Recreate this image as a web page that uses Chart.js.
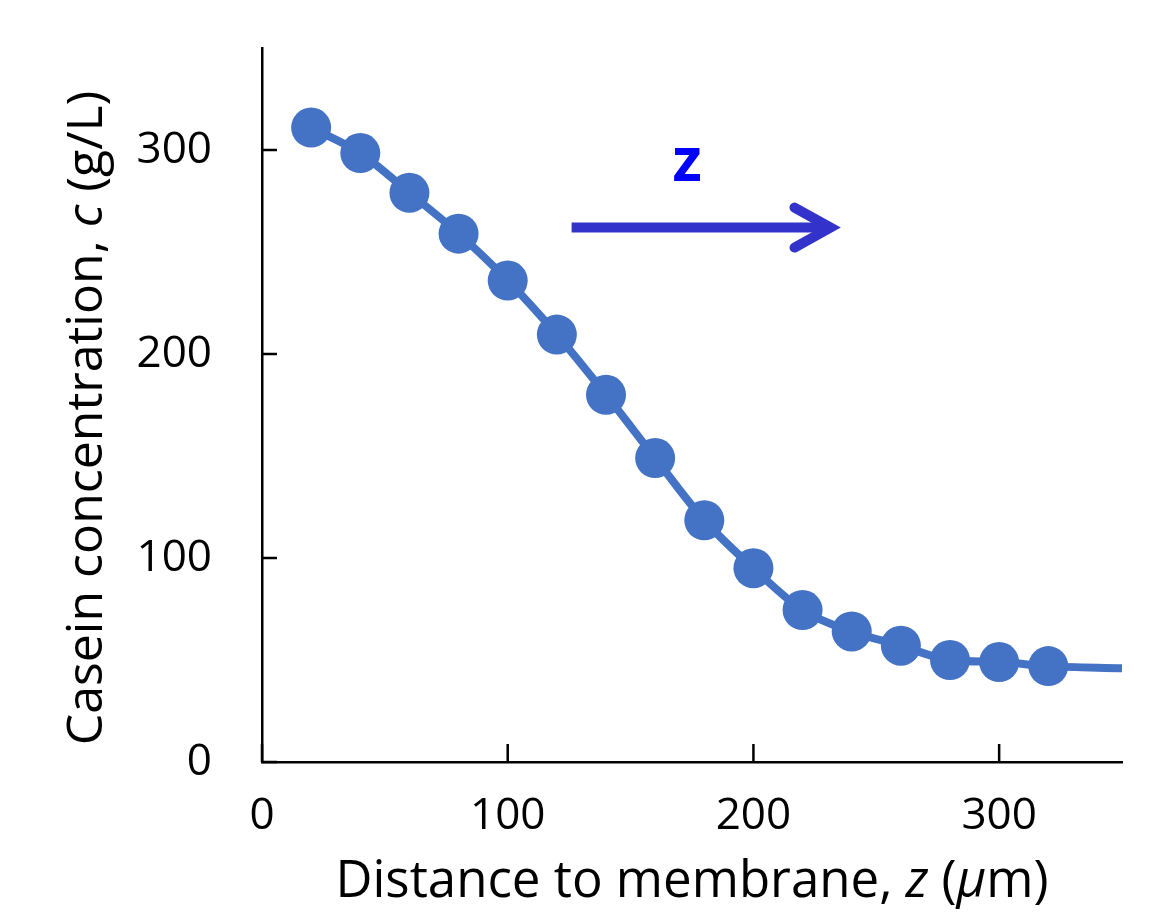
<!DOCTYPE html>
<html>
<head>
<meta charset="utf-8">
<script src="https://cdn.jsdelivr.net/npm/chart.js@4/dist/chart.umd.min.js"></script>
<style>
  html, body { margin: 0; padding: 0; background: #fff; }
  #wrap { width: 1152px; height: 919px; }
</style>
</head>
<body>
<div id="wrap"><canvas id="chart" width="1152" height="919"></canvas></div>
<script>
// measured profile: distance z (um) and casein concentration c (g/L)
const zValues = [20, 40, 60, 80, 100, 120, 140, 160, 180, 200, 220, 240, 260, 280, 300, 320];
const cValues = [311, 298.5, 279, 259, 236, 209.5, 180, 149, 118.5, 95, 74.5, 64, 57, 50, 49, 47];
// curve continues past the last point to the edge of the plot
const tailZ = [350];
const tailC = [46];

const xTicks = [0, 100, 200, 300];
const yTicks = [0, 100, 200, 300];

// arrow annotation, in data units
const arrowFrom = { z: 126, c: 262 };
const arrowTo = { z: 233, c: 262 };
const arrowLabel = { z: 173, c: 291, text: 'z' };

const xTitle = [['Distance to membrane, ', false], ['z', true], [' (', false], ['μ', true], ['m)', false]];
const yTitle = [['Casein concentration, ', false], ['c', true], [' (g/L)', false]];

const FONT = "'Open Sans', 'Liberation Sans', sans-serif";
const BLUE = '#4472C4';

const linePoints = zValues.concat(tailZ).map((z, i) => ({ x: z, y: cValues.concat(tailC)[i] }));

const drawMixed = (ctx, parts, size) => {
  let total = 0;
  parts.forEach(([t, it]) => {
    ctx.font = `${it ? 'italic ' : ''}${size}px ${FONT}`;
    total += ctx.measureText(t).width;
  });
  let x = -total / 2;
  parts.forEach(([t, it]) => {
    ctx.font = `${it ? 'italic ' : ''}${size}px ${FONT}`;
    ctx.fillText(t, x, 0);
    x += ctx.measureText(t).width;
  });
};

const extras = {
  id: 'extras',
  afterDraw(chart) {
    const { ctx, scales: { x, y }, chartArea } = chart;
    ctx.save();

    // inward tick marks
    ctx.strokeStyle = '#000';
    ctx.lineWidth = 2.5;
    ctx.beginPath();
    xTicks.forEach(v => {
      const px = x.getPixelForValue(v);
      ctx.moveTo(px, chartArea.bottom);
      ctx.lineTo(px, chartArea.bottom - 18);
    });
    yTicks.forEach(v => {
      const py = y.getPixelForValue(v);
      ctx.moveTo(chartArea.left, py);
      ctx.lineTo(chartArea.left + 15, py);
    });
    ctx.stroke();

    // arrow
    const ax0 = x.getPixelForValue(arrowFrom.z);
    const ax1 = x.getPixelForValue(arrowTo.z);
    const ay = y.getPixelForValue(arrowFrom.c);
    ctx.strokeStyle = '#3333CC';
    ctx.lineWidth = 10;
    ctx.beginPath();
    ctx.moveTo(ax0, ay);
    ctx.lineTo(ax1 - 6, ay);
    ctx.stroke();
    ctx.lineCap = 'round';
    ctx.lineJoin = 'miter';
    ctx.beginPath();
    ctx.moveTo(ax1 - 40, ay - 20);
    ctx.lineTo(ax1 - 4, ay);
    ctx.lineTo(ax1 - 40, ay + 20);
    ctx.stroke();

    ctx.fillStyle = '#0000FF';
    ctx.font = `bold 60px ${FONT}`;
    ctx.textAlign = 'center';
    ctx.textBaseline = 'middle';
    ctx.fillText(arrowLabel.text, x.getPixelForValue(arrowLabel.z), y.getPixelForValue(arrowLabel.c) - 4);

    // axis titles
    ctx.fillStyle = '#000';
    ctx.textAlign = 'left';
    ctx.textBaseline = 'middle';
    ctx.save();
    ctx.translate((chartArea.left + chartArea.right) / 2, 882);
    drawMixed(ctx, xTitle, 51);
    ctx.restore();
    ctx.save();
    ctx.translate(88, 418);
    ctx.rotate(-Math.PI / 2);
    drawMixed(ctx, yTitle, 50);
    ctx.restore();

    ctx.restore();
  }
};

new Chart(document.getElementById('chart'), {
  type: 'scatter',
  data: {
    datasets: [{
      data: linePoints,
      showLine: true,
      borderColor: BLUE,
      borderWidth: 8,
      backgroundColor: BLUE,
      pointBackgroundColor: BLUE,
      pointBorderWidth: 0,
      pointRadius: ctx => (ctx.dataIndex < zValues.length ? 20 : 0),
      tension: 0.3,
      cubicInterpolationMode: 'monotone'
    }]
  },
  options: {
    responsive: false,
    animation: false,
    devicePixelRatio: 1,
    layout: { padding: { top: 48, right: 30, left: 0, bottom: 0 } },
    plugins: { legend: { display: false }, tooltip: { enabled: false } },
    scales: {
      x: {
        type: 'linear',
        min: 0,
        max: 350,
        afterBuildTicks: s => { s.ticks = xTicks.map(v => ({ value: v })); },
        afterFit: s => { s.height = 157; s.paddingLeft = 0; s.paddingRight = 0; },
        grid: { display: false, drawTicks: false },
        border: { display: true, color: '#000', width: 2.5 },
        ticks: { color: '#000', padding: 28, font: { family: FONT, size: 44 } }
      },
      y: {
        type: 'linear',
        min: 0,
        max: 350,
        afterBuildTicks: s => { s.ticks = yTicks.map(v => ({ value: v })); },
        afterFit: s => { s.width = 262; s.paddingTop = 0; s.paddingBottom = 0; },
        grid: { display: false, drawTicks: false },
        border: { display: true, color: '#000', width: 2.5 },
        ticks: { color: '#000', padding: 50, font: { family: FONT, size: 44 } }
      }
    }
  },
  plugins: [extras]
});
</script>
</body>
</html>
